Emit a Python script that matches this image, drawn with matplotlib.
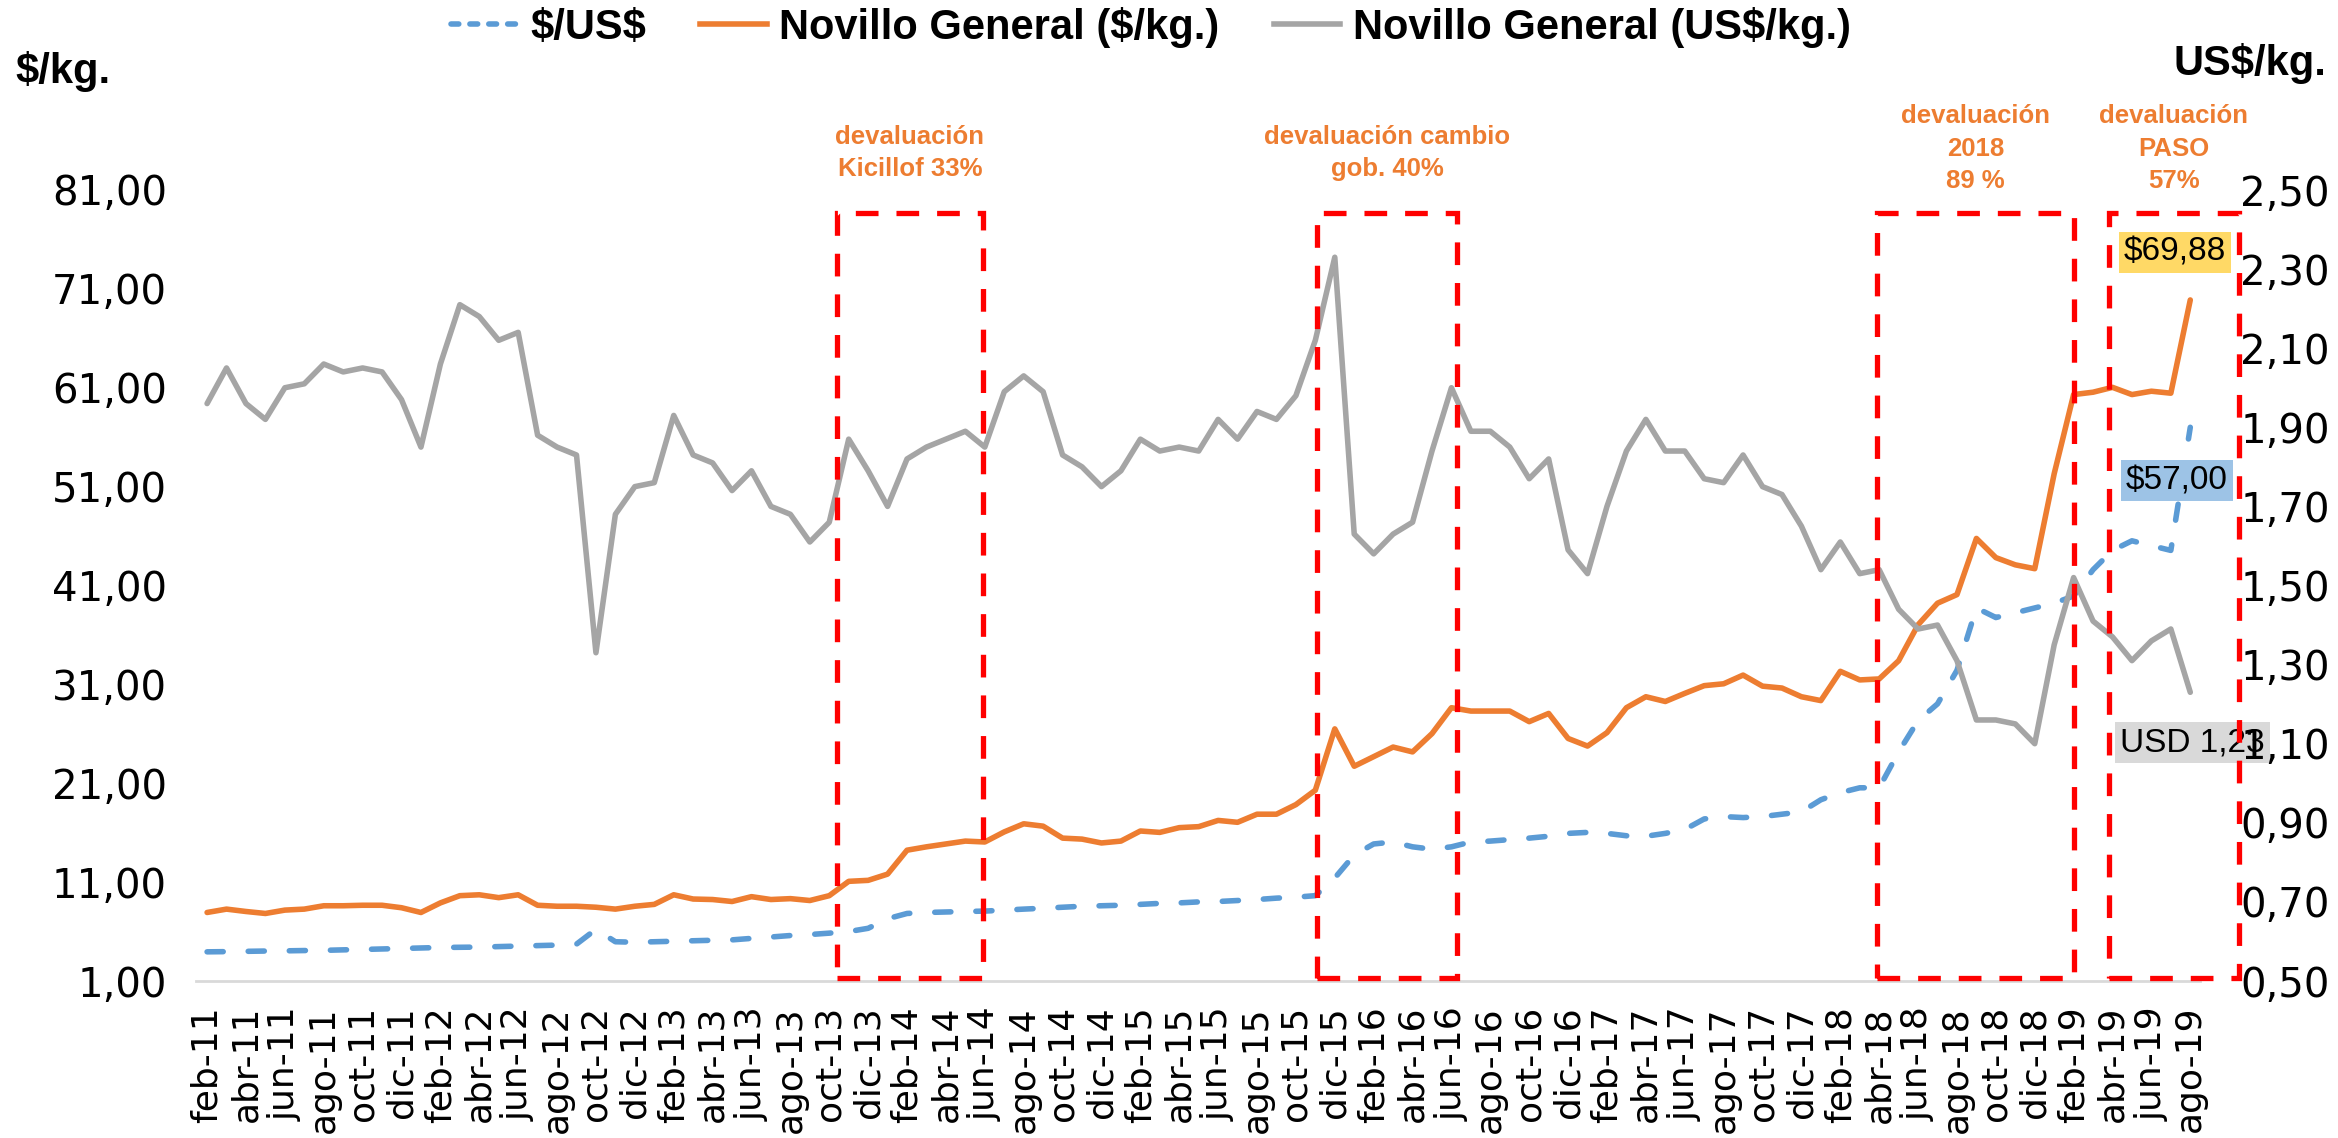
import numpy as np
import matplotlib
matplotlib.use("Agg")
import matplotlib.pyplot as plt
from matplotlib.patches import Rectangle
from matplotlib.lines import Line2D
from matplotlib.ticker import FuncFormatter
from matplotlib.transforms import blended_transform_factory

plt.rcParams["text.parse_math"] = False
plt.rcParams["font.family"] = "DejaVu Sans"

# categories: feb-11 .. ago-19, monthly
meses = ["ene", "feb", "mar", "abr", "may", "jun", "jul", "ago", "sep", "oct", "nov", "dic"]
fechas = [f"{meses[(1 + k) % 12]}-{11 + (1 + k) // 12}" for k in range(103)]

# $/US$ (left axis)
dolar = [3.95, 3.97, 4.00, 4.03, 4.05, 4.08, 4.10, 4.15, 4.19, 4.24, 4.29, 4.34,
         4.39, 4.41, 4.43, 4.48, 4.53, 4.58, 4.63, 4.73, 6.23, 4.97, 4.92, 4.97,
         5.02, 5.07, 5.12, 5.16, 5.31, 5.45, 5.60, 5.70, 5.84, 6.00, 6.33, 7.30,
         7.83, 7.93, 7.98, 8.03, 8.07, 8.17, 8.27, 8.36, 8.46, 8.56, 8.61, 8.66,
         8.75, 8.85, 8.90, 9.00, 9.04, 9.14, 9.24, 9.38, 9.48, 9.63, 11.42, 13.75,
         14.86, 15.06, 14.57, 14.33, 14.57, 15.06, 15.15, 15.30, 15.45, 15.64, 15.93, 16.03,
         15.93, 15.69, 15.64, 15.93, 16.32, 17.39, 17.63, 17.53, 17.63, 17.87, 18.11, 19.33,
         20.05, 20.54, 20.54, 24.17, 27.33, 29.03, 32.42, 38.73, 37.76, 38.24, 38.73, 39.21,
         39.94, 42.60, 44.55, 45.52, 45.03, 44.55, 57.00]

# Novillo General $/kg (left axis)
novillo_ars = [7.93, 8.27, 8.03, 7.83, 8.17, 8.27, 8.61, 8.61, 8.66, 8.66, 8.41, 7.93,
               8.90, 9.63, 9.72, 9.43, 9.72, 8.66, 8.56, 8.56, 8.46, 8.27, 8.56, 8.75,
               9.72, 9.29, 9.24, 9.04, 9.53, 9.24, 9.33, 9.14, 9.63, 11.08, 11.18, 11.81,
               14.23, 14.57, 14.86, 15.15, 15.06, 16.08, 16.90, 16.66, 15.45, 15.35, 14.96, 15.15,
               16.17, 16.03, 16.51, 16.61, 17.24, 17.05, 17.87, 17.87, 18.84, 20.30, 26.50, 22.72,
               23.69, 24.66, 24.17, 26.02, 28.64, 28.30, 28.30, 28.30, 27.23, 28.06, 25.53, 24.76,
               26.12, 28.64, 29.75, 29.27, 30.09, 30.87, 31.06, 31.94, 30.82, 30.63, 29.75, 29.36,
               32.32, 31.45, 31.55, 33.39, 37.03, 39.21, 40.08, 45.76, 43.82, 43.09, 42.70, 52.30,
               60.31, 60.55, 61.04, 60.31, 60.65, 60.45, 69.88]

# Novillo General US$/kg (right axis)
novillo_usd = [1.96, 2.05, 1.96, 1.92, 2.00, 2.01, 2.06, 2.04, 2.05, 2.04, 1.97, 1.85,
               2.06, 2.21, 2.18, 2.12, 2.14, 1.88, 1.85, 1.83, 1.33, 1.68, 1.75, 1.76,
               1.93, 1.83, 1.81, 1.74, 1.79, 1.70, 1.68, 1.61, 1.66, 1.87, 1.79, 1.70,
               1.82, 1.85, 1.87, 1.89, 1.85, 1.99, 2.03, 1.99, 1.83, 1.80, 1.75, 1.79,
               1.87, 1.84, 1.85, 1.84, 1.92, 1.87, 1.94, 1.92, 1.98, 2.12, 2.33, 1.63,
               1.58, 1.63, 1.66, 1.84, 2.00, 1.89, 1.89, 1.85, 1.77, 1.82, 1.59, 1.53,
               1.70, 1.84, 1.92, 1.84, 1.84, 1.77, 1.76, 1.83, 1.75, 1.73, 1.65, 1.54,
               1.61, 1.53, 1.54, 1.44, 1.39, 1.40, 1.31, 1.16, 1.16, 1.15, 1.10, 1.35,
               1.52, 1.41, 1.37, 1.31, 1.36, 1.39, 1.23]

# highlighted periods (category index span) and their captions
periodos = [(32.4, 39.9), (57.1, 64.3), (85.9, 96.0), (97.8, 104.5)]
textos = ["devaluación\nKicillof 33%", "devaluación cambio\ngob. 40%",
          "devaluación\n2018\n89 %", "devaluación\nPASO\n57%"]

AZUL = "#5B9BD5"
NARANJA = "#ED7D31"
GRIS = "#A5A5A5"
LW = 4.0

x = np.arange(len(fechas))

W, H = 2338, 1138
fig = plt.figure(figsize=(W / 100, H / 100), dpi=100)
ax = fig.add_axes([196 / W, 1 - 981 / H, (2200 - 196) / W, (981 - 190) / H])
ax2 = ax.twinx()

ax.plot(x, dolar, color=AZUL, lw=LW, linestyle=(0, (2.9, 4.5)),
        dash_capstyle="round", label="$/US$")
ax.plot(x, novillo_ars, color=NARANJA, lw=LW, solid_joinstyle="round",
        solid_capstyle="round", label="Novillo General ($/kg.)")
ax2.plot(x, novillo_usd, color=GRIS, lw=LW, solid_joinstyle="round",
         solid_capstyle="round", label="Novillo General (US$/kg.)")

ax.set_xlim(-0.57, 102.5)
ax.set_ylim(1, 81)
ax2.set_ylim(0.5, 2.5)
ax.set_yticks(np.arange(1, 82, 10))
ax2.set_yticks(np.arange(0.5, 2.51, 0.2))
coma = FuncFormatter(lambda v, p: f"{v:.2f}".replace(".", ","))
ax.yaxis.set_major_formatter(coma)
ax2.yaxis.set_major_formatter(coma)
ax.set_xticks(x[::2])
ax.set_xticklabels(fechas[::2], rotation=90, fontsize=26)

ax.tick_params(axis="y", length=0, labelsize=29, pad=21)
ax2.tick_params(axis="y", length=0, labelsize=29, pad=29)
ax.tick_params(axis="x", length=0, pad=18)

for s in ["top", "left", "right"]:
    ax.spines[s].set_visible(False)
for s in ax2.spines.values():
    s.set_visible(False)
ax.spines["bottom"].set_color("#D9D9D9")
ax.spines["bottom"].set_linewidth(2)

# red dashed boxes
for (x0, x1) in periodos:
    r = Rectangle((x0, 1.3), x1 - x0, 78.7 - 1.3, transform=ax.transData,
                  fill=False, ec="#FF0000", lw=3.8, ls=(0, (4.3, 3.4)),
                  clip_on=False, zorder=6)
    ax2.add_patch(r)

trans = blended_transform_factory(ax.transData, ax.transAxes)
nota_font = dict(family="Liberation Sans", weight="bold", size=18.5, color=NARANJA)
for (x0, x1), t in zip(periodos, textos):
    yy = 1.047 if t.count("\n") == 1 else 1.052
    ax.text((x0 + x1) / 2, yy, t, transform=trans, ha="center", va="center",
            multialignment="center", linespacing=1.45, **nota_font)

# end-value labels
lab_font = dict(family="Liberation Sans", size=24, color="black", ha="center", va="center")
ax2.text(101.2, 74.7, f"${novillo_ars[-1]:.2f}".replace(".", ","), transform=ax.transData,
         bbox=dict(boxstyle="square,pad=0.15", fc="#FFD966", ec="none"), zorder=7, **lab_font)
ax2.text(101.3, 51.6, f"${dolar[-1]:.2f}".replace(".", ","), transform=ax.transData,
         bbox=dict(boxstyle="square,pad=0.15", fc="#9DC3E6", ec="none"), zorder=7, **lab_font)
ax.text(102.1, 25.1, f"USD {novillo_usd[-1]:.2f}".replace(".", ","), clip_on=False,
        bbox=dict(boxstyle="square,pad=0.15", fc="#D9D9D9", ec="none"), zorder=7, **lab_font)

# axis titles
tit_font = dict(family="Liberation Sans", weight="bold", size=30)
fig.text(15 / W, 1 - 72 / H, "$/kg.", ha="left", va="center", **tit_font)
fig.text(2326 / W, 1 - 63 / H, "US$/kg.", ha="right", va="center", **tit_font)

# legend
handles = [Line2D([], [], color=AZUL, lw=LW, linestyle=(0, (1.4, 2.0)), dash_capstyle="round"),
           Line2D([], [], color=NARANJA, lw=LW),
           Line2D([], [], color=GRIS, lw=LW)]
labels = ["$/US$", "Novillo General ($/kg.)", "Novillo General (US$/kg.)"]
fig.legend(handles, labels, loc="center", bbox_to_anchor=(1151 / W, 1 - 27 / H), ncol=3,
           frameon=False, handlelength=1.6, handletextpad=0.3, columnspacing=1.3,
           prop=dict(family="Liberation Sans", weight="bold", size=30))

fig.savefig("out.png", dpi=100)
